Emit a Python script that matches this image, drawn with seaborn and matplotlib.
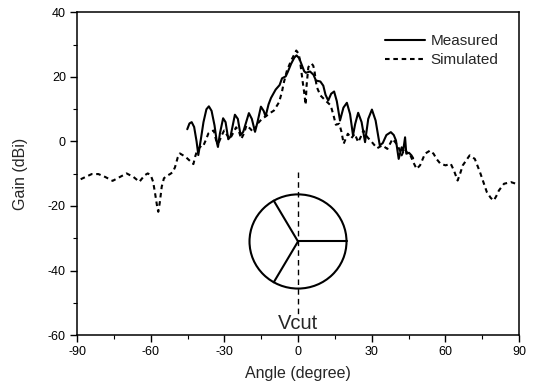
import numpy as np
import pandas as pd
import matplotlib
matplotlib.use("Agg")
import matplotlib.pyplot as plt
from matplotlib.patches import Ellipse
from matplotlib.ticker import MultipleLocator
import seaborn as sns

# ---- data ----
meas_angle = [-45.1, -44.2, -43.3, -42.3, -41.3, -40.6, -39.6, -38.5, -37.3, -36.3,
              -35.2, -34.0, -33.0, -32.6, -31.8, -30.5, -29.5, -28.4, -27.5, -25.7,
              -24.5, -23.4, -22.3, -20.0, -18.8, -17.5, -16.5, -15.1, -14.0, -13.2,
              -12.0, -11.0, -9.1, -7.5, -6.5, -5.0, -4.2, -2.8, -1.5, -0.6,
              0.5, 1.4, 2.5, 3.2, 4.9, 6.3, 7.3, 9.1, 10.3, 11.2,
              12.3, 13.5, 14.7, 15.8, 17.1, 18.5, 19.9, 21.2, 22.4, 23.3,
              24.5, 25.9, 27.3, 28.6, 30.1, 31.6, 33.3, 34.5, 36.0, 37.8,
              39.0, 39.9, 41.0, 42.2, 42.8, 43.6, 44.1, 45.2, 46.2, 46.9]
meas_gain = [3.8, 5.6, 6.0, 4.5, 0.0, -4.2, 0.5, 6.0, 10.0, 10.9,
             9.5, 5.0, -0.5, -1.7, 2.5, 7.2, 6.0, 0.7, 1.5, 8.3,
             7.0, 2.0, 3.0, 8.8, 7.0, 3.0, 6.0, 10.8, 9.5, 7.8,
             11.5, 13.5, 16.1, 17.5, 19.6, 20.2, 21.5, 24.1, 26.0, 26.7,
             25.8, 24.0, 21.8, 21.3, 21.7, 20.7, 18.9, 18.6, 17.3, 14.5,
             12.7, 14.8, 15.5, 12.5, 6.5, 10.5, 12.0, 8.5, 1.9, 5.5,
             8.9, 6.0, -0.2, 7.0, 9.9, 6.5, -1.2, -0.5, 2.0, 2.9,
             2.0, 0.3, -5.4, -1.8, -3.0, 1.3, -3.8, -3.5, -4.3, -5.2]

sim_angle = [-88.5, -86.0, -84.0, -81.3, -78.5, -75.5, -72.5, -69.8, -67.0, -64.6,
             -62.5, -61.2, -60.0, -59.0, -58.2, -57.3, -56.9, -56.3, -55.5, -54.6,
             -53.3, -52.1, -51.0, -50.1, -49.0, -48.1, -46.8, -45.6, -44.0, -42.6,
             -41.8, -41.0, -39.2, -38.6, -37.5, -36.5, -35.1, -34.3, -33.1, -32.2,
             -31.0, -30.1, -28.9, -27.7, -26.5, -25.2, -24.0, -23.1, -22.0, -21.0,
             -19.5, -18.2, -16.5, -14.7, -12.6, -11.0, -9.8, -7.7, -6.5, -5.9,
             -4.5, -2.8, -1.5, -0.7, 0.3, 0.9, 1.4, 2.0, 2.5, 3.1,
             3.5, 4.2, 5.0, 5.6, 6.2, 6.7, 7.2, 7.7, 9.1, 11.2,
             13.3, 14.5, 15.4, 16.8, 17.7, 18.6, 19.5, 20.3, 21.7, 23.1,
             24.5, 25.6, 26.6, 28.3, 30.1, 32.2, 34.3, 36.4, 38.5, 40.6,
             42.2, 43.4, 44.5, 45.5, 47.0, 48.3, 49.7, 51.7, 53.8, 55.2,
             56.5, 58.0, 60.1, 62.2, 63.5, 65.0, 66.0, 67.1, 69.9, 72.0,
             74.1, 76.9, 78.5, 79.7, 80.7, 81.8, 83.9, 86.7, 88.8]
sim_gain = [-11.7, -10.8, -10.1, -10.1, -11.0, -12.2, -11.0, -9.9, -11.0, -12.5,
            -10.5, -9.9, -10.4, -12.5, -16.1, -20.5, -21.8, -19.0, -14.0, -11.4,
            -10.6, -10.1, -9.5, -8.0, -5.0, -3.7, -4.3, -4.9, -6.0, -7.0,
            -4.5, -2.6, -1.2, -1.4, 0.5, 2.5, 3.2, 3.4, -0.4, -0.2,
            2.0, 3.4, 2.0, 0.8, 2.5, 4.4, 3.0, 0.8, 2.5, 5.0,
            4.0, 2.9, 5.5, 7.0, 8.1, 9.0, 9.6, 12.2, 15.5, 17.9,
            22.0, 25.1, 27.0, 28.2, 27.2, 24.5, 21.5, 18.0, 15.3, 11.4,
            17.4, 23.0, 24.0, 24.1, 23.5, 22.0, 19.0, 16.8, 14.3, 12.7,
            11.2, 8.0, 5.2, 5.5, 3.0, -0.7, 1.0, 2.4, 1.0, 2.4,
            -0.2, 1.5, 3.4, 1.3, -0.2, -2.1, -1.2, -2.3, 0.8, -1.2,
            -4.3, -2.3, -3.5, -3.8, -6.5, -8.5, -7.4, -3.8, -2.8, -3.8,
            -5.5, -6.9, -7.4, -6.9, -9.0, -12.1, -10.0, -7.4, -4.3, -5.4,
            -9.5, -15.7, -17.5, -18.3, -17.0, -15.2, -13.1, -12.6, -13.1]

series_labels = ["Measured", "Simulated"]
x_ticks = [-90, -60, -30, 0, 30, 60, 90]
y_ticks = [-60, -40, -20, 0, 20, 40]

# ---- style ----
sns.set_style("ticks")
plt.rcParams["font.family"] = ["Liberation Sans", "DejaVu Sans"]
plt.rcParams["axes.unicode_minus"] = False

fig = plt.figure(figsize=(5.37, 3.89), dpi=100)
ax = fig.add_axes([0.1434, 0.1388, 0.8231, 0.8291])

df_m = pd.DataFrame({"angle": meas_angle, "gain": meas_gain})
df_s = pd.DataFrame({"angle": sim_angle, "gain": sim_gain})

sns.lineplot(data=df_m, x="angle", y="gain", ax=ax, color="black", lw=1.5,
             label=series_labels[0], sort=False)
sns.lineplot(data=df_s, x="angle", y="gain", ax=ax, color="black", lw=1.5,
             label=series_labels[1], sort=False)
ax.lines[1].set_dashes([2.2, 1.8])

ax.set_xlim(-90, 90)
ax.set_ylim(-60, 40)
ax.set_xticks(x_ticks)
ax.set_yticks(y_ticks)
ax.xaxis.set_minor_locator(MultipleLocator(15))
ax.yaxis.set_minor_locator(MultipleLocator(10))
ax.tick_params(which="major", direction="out", length=5, width=1, labelsize=9,
               color="black", labelcolor="black", pad=3)
ax.tick_params(which="minor", direction="out", length=3, width=0.8, color="black")
for s in ax.spines.values():
    s.set_visible(True)
    s.set_color("black")
    s.set_linewidth(1.1)

ax.set_xlabel("Angle (degree)", fontsize=11.5, labelpad=6)
ax.set_ylabel("Gain (dBi)", fontsize=11.5, labelpad=14)

leg = ax.legend(loc="upper right", bbox_to_anchor=(0.985, 0.975), frameon=False,
                fontsize=11, handlelength=2.6, handletextpad=0.4, labelspacing=0.3)
leg.get_lines()[1].set_dashes([2.2, 1.8])

# ---- inset diagram: Vcut ----
cx, cy = 0.0, -31.0
rx, ry = 19.75, 14.6
ax.add_patch(Ellipse((cx, cy), 2 * rx, 2 * ry, fill=False, ec="black", lw=1.5))
for th in [0, 120, 240]:
    t = np.deg2rad(th)
    ax.plot([cx, cx + rx * np.cos(t)], [cy, cy + ry * np.sin(t)], color="black", lw=1.5)
ax.plot([0, 0], [-9.5, -54], color="black", lw=1.0, dashes=[4, 3])
ax.text(0, -56.5, "Vcut", ha="center", va="center", fontsize=14.5)

fig.savefig("out.png", dpi=100)
